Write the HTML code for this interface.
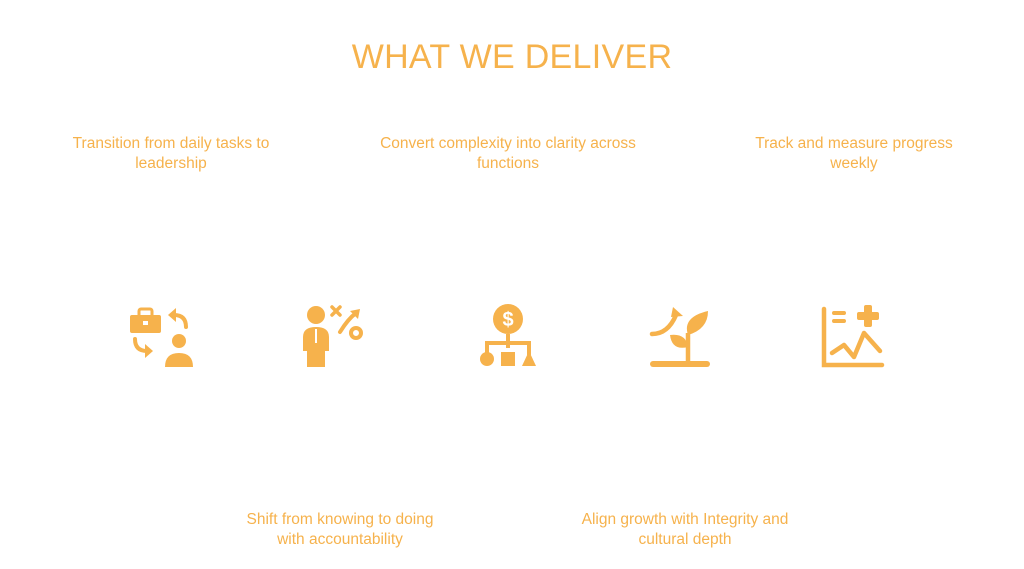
<!DOCTYPE html>
<html><head><meta charset="utf-8"><style>
html,body{margin:0;padding:0;background:#fff;}
body{width:1024px;height:569px;position:relative;overflow:hidden;font-family:"Liberation Sans",sans-serif;color:#F6B24C;}
.t{position:absolute;text-align:center;font-size:15.5px;line-height:20px;}
h1{position:absolute;top:38px;left:0;width:1024px;margin:0;text-align:center;font-weight:normal;font-size:34px;letter-spacing:0.3px;}
svg{position:absolute;}
</style></head><body>
<h1>WHAT WE DELIVER</h1>
<div class="t" style="left:51px;top:134px;width:240px;">Transition from daily tasks to<br>leadership</div>
<div class="t" style="left:358px;top:134px;width:300px;">Convert complexity into clarity across<br>functions</div>
<div class="t" style="left:734px;top:134px;width:240px;">Track and measure progress<br>weekly</div>
<div class="t" style="left:210px;top:510px;width:260px;">Shift from knowing to doing<br>with accountability</div>
<div class="t" style="left:555px;top:510px;width:260px;">Align growth with Integrity and<br>cultural depth</div>

<!-- icon 1 -->
<svg style="left:128px;top:305px" width="66" height="64" viewBox="0 0 66 64" fill="#F6B24C" stroke="#F6B24C">
<rect x="2" y="10" width="31" height="18" rx="2" stroke="none"/>
<rect x="11" y="4" width="13" height="8" rx="2" fill="none" stroke-width="3"/>
<rect x="15" y="16" width="5" height="4" fill="#fff" stroke="none"/>
<path d="M58 22 Q58 10 46 10" fill="none" stroke-width="4" stroke-linecap="round"/>
<path d="M40 10 L48 3 L48 17 Z" stroke="none"/>
<path d="M7 34 Q7 46 19 46" fill="none" stroke-width="4" stroke-linecap="round"/>
<path d="M25 46 L17 39 L17 53 Z" stroke="none"/>
<circle cx="51" cy="36" r="7" stroke="none"/>
<path d="M37 62 Q37 48 51 48 Q65 48 65 62 Z" stroke="none"/>
</svg>
<!-- icon 2 -->
<svg style="left:300px;top:305px" width="66" height="64" viewBox="0 0 66 64" fill="#F6B24C" stroke="#F6B24C">
<circle cx="16" cy="10" r="9" stroke="none"/>
<path d="M3 32 Q3 22 16 22 Q29 22 29 32 V46 H25 V62 H7 V46 H3 Z" stroke="none"/>
<line x1="16" y1="24" x2="16" y2="38" stroke="#fff" stroke-width="2"/>
<path d="M32 2 L40 10 M40 2 L32 10" stroke-width="3.5" stroke-linecap="round"/>
<path d="M40 27 Q48 14 56 8" fill="none" stroke-width="4" stroke-linecap="round"/>
<path d="M60 4 L50 6 L58 14 Z" stroke="none"/>
<circle cx="56" cy="28" r="5" fill="none" stroke-width="4"/>
</svg>
<!-- icon 3 -->
<svg style="left:478px;top:303px" width="60" height="66" viewBox="0 0 60 66" fill="#F6B24C" stroke="#F6B24C">
<circle cx="30" cy="16" r="15" stroke="none"/>
<text x="30" y="23" font-family="Liberation Sans" font-weight="bold" font-size="20" text-anchor="middle" fill="#fff" stroke="none">$</text>
<path d="M30 31 V45 M9 52 V40 H51 V52" fill="none" stroke-width="4"/>
<circle cx="9" cy="56" r="7" stroke="none"/>
<rect x="23" y="49" width="14" height="14" stroke="none"/>
<path d="M51 48 L58 63 L44 63 Z" stroke="none"/>
</svg>
<!-- icon 4 -->
<svg style="left:648px;top:303px" width="66" height="66" viewBox="0 0 66 66" fill="#F6B24C" stroke="#F6B24C">
<path d="M4 31 Q20 31 28 12" fill="none" stroke-width="4.5" stroke-linecap="round"/>
<path d="M25 4 L35 13 L23 14 Z" stroke="none"/>
<path d="M40 62 V30" fill="none" stroke-width="4.5"/>
<path d="M40 32 Q34 14 60 8 Q60 26 40 32 Z" stroke="none"/>
<path d="M40 44 Q24 48 22 32 Q38 30 40 44 Z" stroke="none"/>
<rect x="2" y="58" width="60" height="6" rx="3" stroke="none"/>
</svg>
<!-- icon 5 -->
<svg style="left:820px;top:303px" width="66" height="66" viewBox="0 0 66 66" fill="#F6B24C" stroke="#F6B24C">
<path d="M4 6 V62 H62" fill="none" stroke-width="4.5" stroke-linecap="round"/>
<path d="M14 10 H24 M14 18 H24" stroke-width="4" stroke-linecap="round"/>
<rect x="44" y="2" width="8" height="22" rx="2" stroke="none"/>
<rect x="37" y="9" width="22" height="8" rx="2" stroke="none"/>
<path d="M12 50 L24 42 L34 54 L44 30 L60 48" fill="none" stroke-width="4.5" stroke-linecap="round" stroke-linejoin="round"/>
</svg>
</body></html>
